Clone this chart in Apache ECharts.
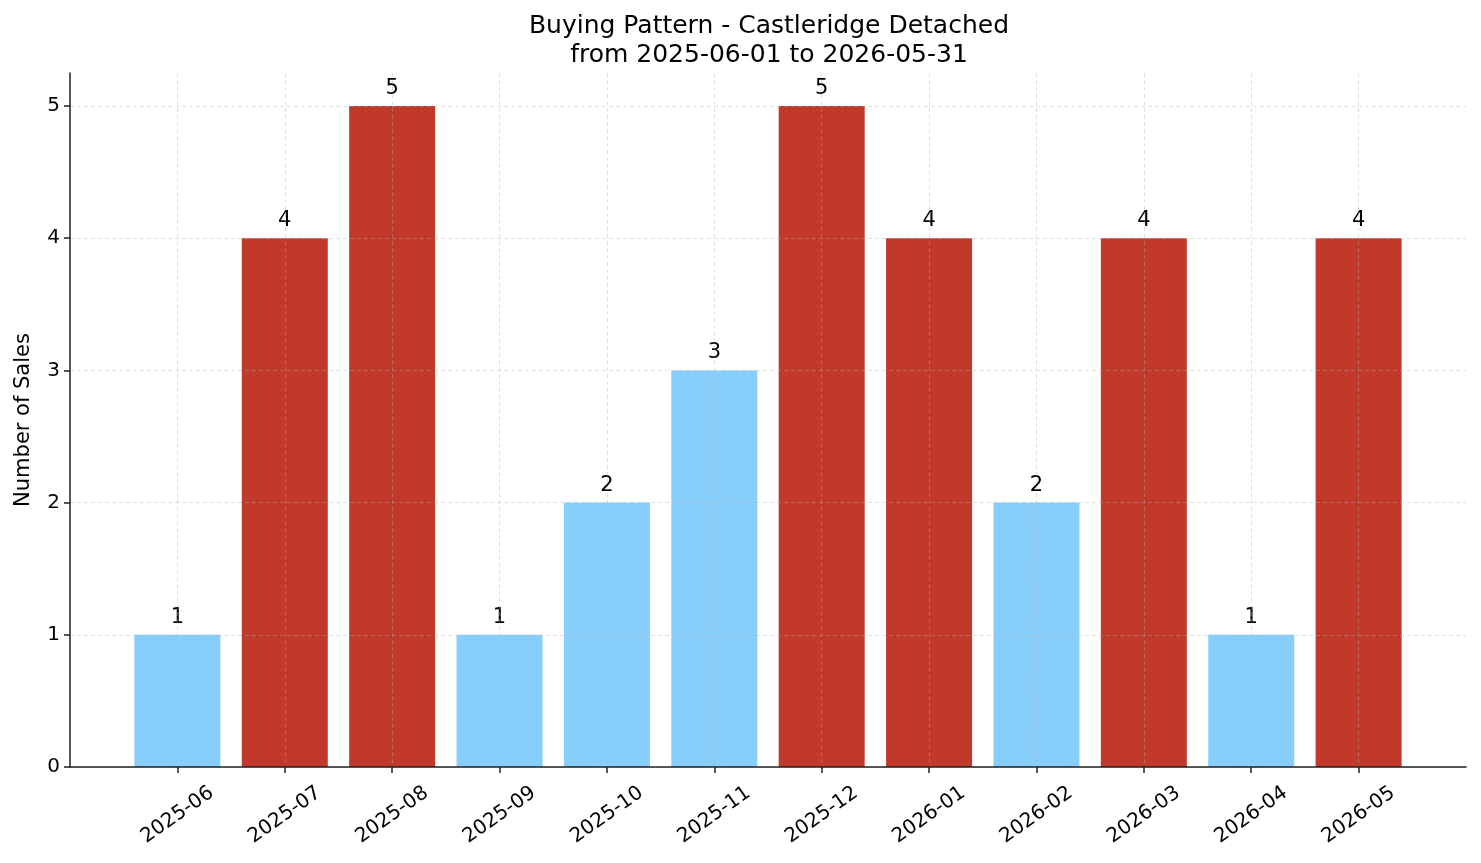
<!DOCTYPE html>
<html>
<head>
<meta charset="utf-8">
<script src="https://cdn.jsdelivr.net/npm/echarts@6/dist/echarts.min.js"></script>
<style>
  html, body { margin: 0; padding: 0; background: #fff; }
  #container { width: 1481px; height: 863px; }
</style>
</head>
<body>
<div id="container"></div>
<script>
var months = ['2025-06', '2025-07', '2025-08', '2025-09', '2025-10', '2025-11',
              '2025-12', '2026-01', '2026-02', '2026-03', '2026-04', '2026-05'];
var sales = [1, 4, 5, 1, 2, 3, 5, 4, 2, 4, 1, 4];
var yTicks = [0, 1, 2, 3, 4, 5];

var blue = '#87CEFA';
var red = '#C0392B';
var font = 'DejaVu Sans';
var gridLine = {color: 'rgba(176,176,176,0.5)', type: [4, 3], width: 0.8};

// empty slot at each end gives the matplotlib-style side margin
var cats = [''].concat(months, ['']);
var barData = ['-'].concat(sales.map(function (v) {
    return {value: v, itemStyle: {color: v >= 4 ? red : blue}};
}), ['-']);
var onMonth = function (idx, val) { return val !== ''; };

var myChart = echarts.init(document.getElementById('container'));
var option = {
    animation: false,
    backgroundColor: '#fff',
    textStyle: {fontFamily: font},
    title: {
        text: 'Buying Pattern - Castleridge Detached\nfrom 2025-06-01 to 2026-05-31',
        left: 764,
        textAlign: 'center',
        top: 7,
        textStyle: {fontFamily: font, fontSize: 25, fontWeight: 'normal', color: '#000', lineHeight: 29}
    },
    grid: {left: 70, right: 15, top: 73, bottom: 96},
    xAxis: {
        type: 'category',
        data: cats,
        boundaryGap: false,
        z: 5,
        axisLine: {lineStyle: {color: '#222', width: 1.5}},
        axisTick: {interval: onMonth, length: 6, lineStyle: {color: '#222', width: 1.5}},
        axisLabel: {
            interval: onMonth,
            rotate: 35,
            align: 'center',
            verticalAlign: 'middle',
            margin: 48,
            fontSize: 20,
            color: '#000',
            fontFamily: font
        },
        splitLine: {show: true, interval: onMonth, lineStyle: gridLine}
    },
    yAxis: {
        type: 'value',
        min: 0,
        max: 5.25,
        z: 5,
        name: 'Number of Sales',
        nameLocation: 'middle',
        nameGap: 36,
        nameTextStyle: {fontSize: 21, color: '#000', fontFamily: font},
        axisLine: {show: true, lineStyle: {color: '#222', width: 1.5}},
        axisTick: {show: true, customValues: yTicks, length: 6, lineStyle: {color: '#222', width: 1.5}},
        axisLabel: {customValues: yTicks, fontSize: 20, color: '#000', margin: 10, fontFamily: font},
        splitLine: {show: true, lineStyle: gridLine}
    },
    series: [{
        type: 'bar',
        data: barData,
        barWidth: 86,
        label: {
            show: true,
            position: 'top',
            distance: 7,
            fontSize: 21,
            color: '#000',
            fontFamily: font
        }
    }]
};
myChart.setOption(option);
</script>
</body>
</html>
